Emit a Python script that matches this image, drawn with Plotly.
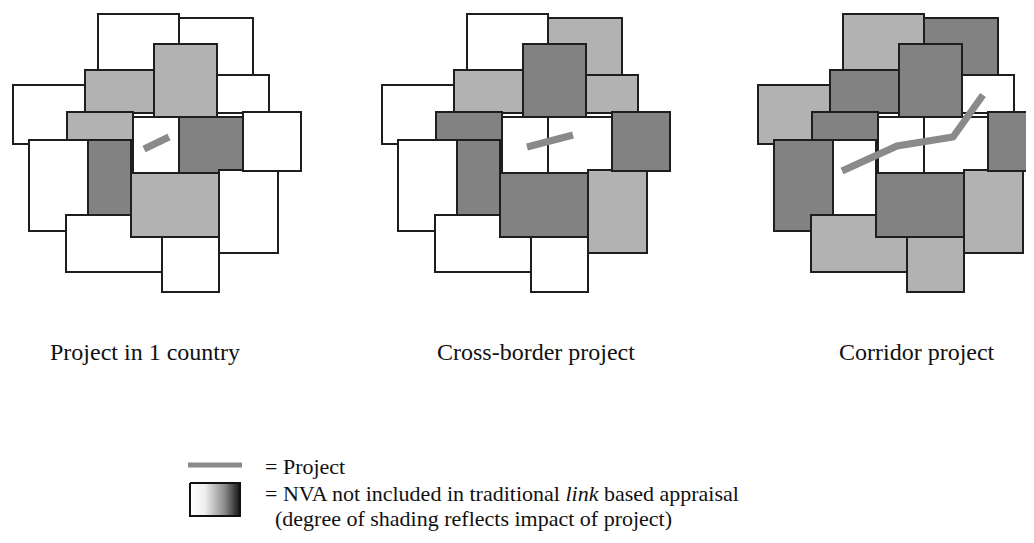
import plotly.graph_objects as go

# ---- base rectangle layout (panel 1 coordinates, pixels) ----
RECT_X0 = [98, 179, 154, 85, 13, 217, 67, 133, 179, 243, 29, 88, 131, 219, 66, 162]
RECT_X1 = [179, 253, 217, 154, 85, 269, 133, 179, 243, 301, 88, 131, 219, 278, 162, 219]
RECT_Y0 = [14, 18, 44, 70, 85, 75, 112, 117, 117, 112, 140, 140, 173, 170, 215, 237]
RECT_Y1 = [71, 76, 117, 113, 144, 113, 140, 173, 173, 171, 231, 215, 237, 253, 272, 292]
DRAW_ORDER = [0, 1, 3, 4, 5, 2, 6, 10, 11, 7, 8, 13, 9, 14, 12, 15]

PANEL_OFFSETS = [0, 369, 745]
# shading: 0 = none, 1 = light, 2 = dark
SHADE_P1 = [0, 0, 1, 1, 0, 0, 1, 0, 2, 0, 0, 2, 1, 0, 0, 0]
SHADE_P2 = [0, 1, 2, 1, 0, 1, 2, 0, 0, 2, 0, 2, 2, 1, 0, 0]
SHADE_P3 = [1, 2, 2, 2, 1, 0, 2, 0, 0, 2, 2, 0, 2, 1, 1, 1]
SHADES = [SHADE_P1, SHADE_P2, SHADE_P3]
SHADE_COLORS = ["#ffffff", "#b2b2b2", "#828282"]

# project lines (absolute pixel positions)
PROJ_X = [[144, 169], [527, 573], [842, 897, 953, 983]]
PROJ_Y = [[149, 137], [147, 135], [171, 146, 137, 95]]

LABELS = ["Project in 1 country", "Cross-border project", "Corridor project"]
LABEL_X = [145, 536, 917]
LABEL_Y = 352

LEGEND_LINE_X = [188, 242]
LEGEND_LINE_Y = [465, 465]
LEGEND_BOX_X = [190, 240, 240, 190, 190]
LEGEND_BOX_Y = [483, 483, 516, 516, 483]
LEGEND_TEXTS = ["= Project",
                "= NVA not included in traditional <i>link</i> based appraisal",
                "(degree of shading reflects impact of project)"]
LEGEND_TEXT_X = [263, 263, 273]
LEGEND_TEXT_Y = [466, 493, 518]

FONT = "Liberation Serif, Times New Roman, serif"
PAGE_MARGIN = 8  # default body margin of the page

fig = go.Figure()

shapes = []
for p, off in enumerate(PANEL_OFFSETS):
    for i in DRAW_ORDER:
        shapes.append(dict(
            type="rect", xref="x", yref="y", layer="below",
            x0=RECT_X0[i] + off, x1=RECT_X1[i] + off,
            y0=RECT_Y0[i], y1=RECT_Y1[i],
            fillcolor=SHADE_COLORS[SHADES[p][i]],
            line=dict(color="#1e1e1e", width=2),
        ))

for xs, ys in zip(PROJ_X, PROJ_Y):
    fig.add_trace(go.Scatter(x=xs, y=ys, mode="lines",
                             line=dict(color="#8a8a8a", width=7),
                             hoverinfo="skip", showlegend=False))

# legend line
fig.add_trace(go.Scatter(x=LEGEND_LINE_X, y=LEGEND_LINE_Y, mode="lines",
                         line=dict(color="#8a8a8a", width=5),
                         hoverinfo="skip", showlegend=False))
# legend gradient box
fig.add_trace(go.Scatter(x=LEGEND_BOX_X, y=LEGEND_BOX_Y, mode="lines",
                         fill="toself",
                         fillgradient=dict(type="horizontal",
                                           colorscale=[[0, "#ffffff"], [0.3, "#eeeeee"],
                                                       [0.7, "#888888"], [1, "#151515"]]),
                         line=dict(color="#111111", width=2),
                         hoverinfo="skip", showlegend=False))

annotations = []
for t, x in zip(LABELS, LABEL_X):
    annotations.append(dict(text=t, x=x, y=LABEL_Y, xref="x", yref="y",
                            showarrow=False, xanchor="center", yanchor="middle",
                            font=dict(family=FONT, size=24, color="#111111")))
for t, x, y in zip(LEGEND_TEXTS, LEGEND_TEXT_X, LEGEND_TEXT_Y):
    annotations.append(dict(text=t, x=x, y=y, xref="x", yref="y",
                            showarrow=False, xanchor="left", yanchor="middle",
                            font=dict(family=FONT, size=22, color="#111111")))

W, H = 1034 - PAGE_MARGIN, 543 - PAGE_MARGIN
fig.update_layout(
    width=W, height=H,
    margin=dict(l=0, r=0, t=0, b=0),
    paper_bgcolor="white", plot_bgcolor="white",
    shapes=shapes, annotations=annotations,
    xaxis=dict(range=[PAGE_MARGIN, PAGE_MARGIN + W], visible=False, fixedrange=True),
    yaxis=dict(range=[PAGE_MARGIN + H, PAGE_MARGIN], visible=False, fixedrange=True),
    showlegend=False,
)

fig.write_html("out.html")
